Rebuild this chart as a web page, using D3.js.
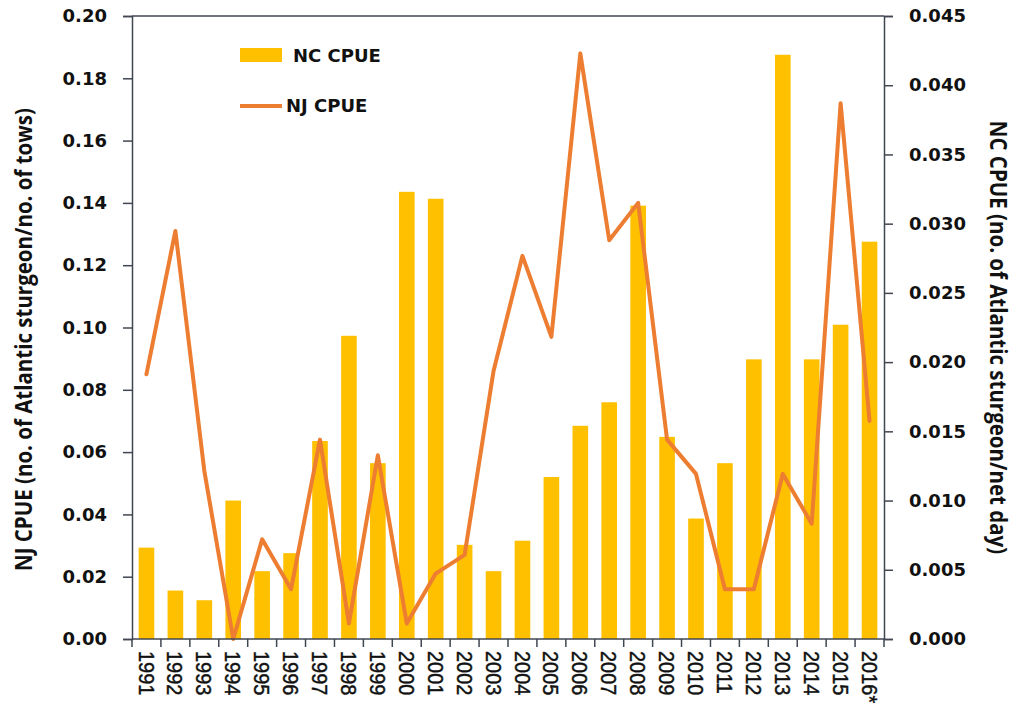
<!DOCTYPE html>
<html>
<head>
<meta charset="utf-8">
<script src="https://cdn.jsdelivr.net/npm/d3@7"></script>
<style>
  body { margin: 0; background: #fff; }
  text { fill: #111; }
</style>
</head>
<body>
<div id="chart-area"></div>
<script>
const years = ["1991", "1992", "1993", "1994", "1995", "1996", "1997", "1998", "1999", "2000",
  "2001", "2002", "2003", "2004", "2005", "2006", "2007", "2008", "2009", "2010",
  "2011", "2012", "2013", "2014", "2015", "2016*"];

// NC CPUE (bars, right axis)
const ncCpue = [0.0066, 0.0035, 0.0028, 0.0100, 0.0049, 0.0062, 0.0143, 0.0219, 0.0127, 0.0323,
  0.0318, 0.0068, 0.0049, 0.0071, 0.0117, 0.0154, 0.0171, 0.0313, 0.0146, 0.0087,
  0.0127, 0.0202, 0.0422, 0.0202, 0.0227, 0.0287];

// NJ CPUE (line, left axis)
const njCpue = [0.085, 0.131, 0.054, 0.000, 0.032, 0.016, 0.064, 0.005, 0.059, 0.005,
  0.021, 0.027, 0.086, 0.123, 0.097, 0.188, 0.128, 0.140, 0.064, 0.053,
  0.016, 0.016, 0.053, 0.037, 0.172, 0.070];

const leftTicks = [0, 0.02, 0.04, 0.06, 0.08, 0.10, 0.12, 0.14, 0.16, 0.18, 0.20];
const rightTicks = [0, 0.005, 0.010, 0.015, 0.020, 0.025, 0.030, 0.035, 0.040, 0.045];

const margin = {left: 132, right: 132, top: 16, bottom: 82},
  width = 1016 - margin.left - margin.right,
  height = 721 - margin.top - margin.bottom;

const axisColor = "#404652";
const boldFont = "'DejaVu Sans', sans-serif";
const titleFont = "'Open Sans', 'Noto Sans', sans-serif";

const svg = d3.select("#chart-area").append("svg")
  .attr("width", 1016)
  .attr("height", 721);

const g = svg.append("g")
  .attr("transform", "translate(" + margin.left + ", " + margin.top + ")");

// Scales
const x = d3.scaleBand().domain(years).range([0, width])
  .paddingInner(0.46).paddingOuter(0.23);
const yL = d3.scaleLinear().domain([0, 0.20]).range([height, 0]);
const yR = d3.scaleLinear().domain([0, 0.045]).range([height, 0]);

// Bars
g.selectAll(".bar")
  .data(years)
  .enter().append("rect")
  .attr("class", "bar")
  .attr("x", d => x(d))
  .attr("width", x.bandwidth())
  .attr("y", (d, i) => yR(ncCpue[i]))
  .attr("height", (d, i) => height - yR(ncCpue[i]))
  .attr("fill", "#FFC000");

// Line
const line = d3.line()
  .x((d, i) => x(years[i]) + x.bandwidth() / 2)
  .y(d => yL(d));

g.append("path")
  .attr("d", line(njCpue))
  .attr("fill", "none")
  .attr("stroke", "#ED7D31")
  .attr("stroke-width", 4)
  .attr("stroke-linejoin", "round")
  .attr("stroke-linecap", "round");

// Axes
const yAxisL = g.append("g")
  .call(d3.axisLeft(yL).tickValues(leftTicks).tickSize(9).tickPadding(16)
    .tickFormat(d3.format(".2f")));
const yAxisR = g.append("g")
  .attr("transform", "translate(" + width + ",0)")
  .call(d3.axisRight(yR).tickValues(rightTicks).tickSize(9).tickPadding(16)
    .tickFormat(d3.format(".3f")));

[yAxisL, yAxisR].forEach(a => {
  a.select(".domain").attr("stroke", axisColor).attr("stroke-width", 1.5);
  a.selectAll(".tick line").attr("stroke", axisColor).attr("stroke-width", 1.5);
  a.selectAll(".tick text")
    .style("font-family", boldFont)
    .style("font-size", "18px")
    .style("font-weight", "bold")
    .attr("fill", "#111");
});

// top border
g.append("line")
  .attr("x1", 0).attr("x2", width)
  .attr("y1", 0).attr("y2", 0)
  .attr("stroke", axisColor).attr("stroke-width", 1.5);

// X axis: ticks at category boundaries
const xAxis = g.append("g")
  .attr("transform", "translate(0," + height + ")");

xAxis.append("line")
  .attr("x1", 0).attr("x2", width)
  .attr("stroke", axisColor).attr("stroke-width", 1.5);

xAxis.selectAll(".xtick")
  .data(d3.range(years.length + 1))
  .enter().append("line")
  .attr("x1", i => i * x.step()).attr("x2", i => i * x.step())
  .attr("y1", 0).attr("y2", 8)
  .attr("stroke", axisColor).attr("stroke-width", 1.5);

xAxis.selectAll(".xlabel")
  .data(years)
  .enter().append("text")
  .attr("transform", d => "translate(" + (x(d) + x.bandwidth() / 2) + ",12) rotate(90) scale(1,1.1)")
  .attr("dy", "0.36em")
  .attr("text-anchor", "start")
  .style("font-family", "'Liberation Sans', Arial, sans-serif")
  .style("font-size", "20px")
  .attr("stroke", "#111")
  .attr("stroke-width", 0.4)
  .text(d => d);

// Axis titles
svg.append("text")
  .attr("transform", "translate(24," + (margin.top + height / 2 + 12) + ") rotate(-90) scale(1,1.15)")
  .attr("text-anchor", "middle")
  .attr("dy", "0.36em")
  .style("font-family", titleFont)
  .style("font-size", "20.5px")
  .style("font-weight", "bold")
  .text("NJ CPUE (no. of Atlantic sturgeon/no. of tows)");

svg.append("text")
  .attr("transform", "translate(998," + (margin.top + height / 2 + 10) + ") rotate(90) scale(1,1.1)")
  .attr("text-anchor", "middle")
  .attr("dy", "0.36em")
  .style("font-family", titleFont)
  .style("font-size", "20.5px")
  .style("font-weight", "bold")
  .text("NC CPUE (no. of Atlantic sturgeon/net day)");

// Legend
const legend = svg.append("g");
legend.append("rect")
  .attr("x", 240).attr("y", 48)
  .attr("width", 42).attr("height", 14)
  .attr("fill", "#FFC000");
legend.append("text")
  .attr("x", 293).attr("y", 62)
  .style("font-family", boldFont)
  .style("font-size", "18px")
  .style("font-weight", "bold")
  .text("NC CPUE");
legend.append("line")
  .attr("x1", 240).attr("x2", 282)
  .attr("y1", 106).attr("y2", 106)
  .attr("stroke", "#ED7D31").attr("stroke-width", 4);
legend.append("text")
  .attr("x", 286).attr("y", 112)
  .style("font-family", boldFont)
  .style("font-size", "18px")
  .style("font-weight", "bold")
  .text("NJ CPUE");
</script>
</body>
</html>
